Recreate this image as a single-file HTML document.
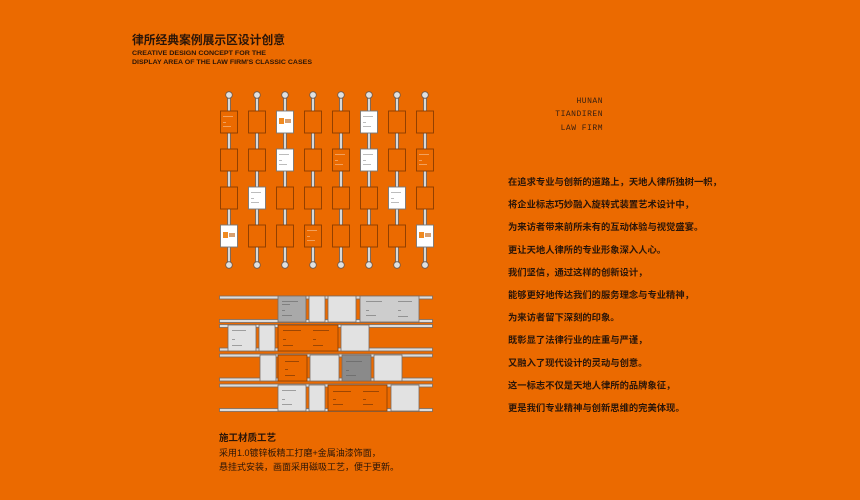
<!DOCTYPE html>
<html><head><meta charset="utf-8"><style>
html,body{margin:0;padding:0;background:#EB6A00;}
svg{display:block}
.cn{font-family:"Liberation Sans","Noto Sans CJK SC",sans-serif;}
</style></head><body>
<svg width="860" height="500" viewBox="0 0 860 500" xmlns="http://www.w3.org/2000/svg">
<rect width="860" height="500" fill="#EB6A00"/>
<g class="cn" fill="#2a1508">
<text x="132" y="44" font-size="11.8" font-weight="bold" textLength="153" lengthAdjust="spacingAndGlyphs">律所经典案例展示区设计创意</text>
<text x="132" y="55" font-size="6.5" font-weight="bold" textLength="134" lengthAdjust="spacingAndGlyphs">CREATIVE DESIGN CONCEPT FOR THE</text>
<text x="132" y="64" font-size="6.5" font-weight="bold" textLength="180" lengthAdjust="spacingAndGlyphs">DISPLAY AREA OF THE LAW FIRM'S CLASSIC CASES</text>
</g>
<g font-family="Liberation Mono, monospace" font-size="8" fill="#3a2010" text-anchor="end" letter-spacing="0.5">
<text x="603" y="103">HUNAN</text>
<text x="603" y="116">TIANDIREN</text>
<text x="603" y="130">LAW FIRM</text>
</g>
<g class="cn" font-size="9.3" font-weight="bold" fill="#2a1508">
<text x="508" y="185">在追求专业与创新的道路上，天地人律所独树一帜，</text>
<text x="508" y="207.6">将企业标志巧妙融入旋转式装置艺术设计中，</text>
<text x="508" y="230.2">为来访者带来前所未有的互动体验与视觉盛宴。</text>
<text x="508" y="252.8">更让天地人律所的专业形象深入人心。</text>
<text x="508" y="275.4">我们坚信，通过这样的创新设计，</text>
<text x="508" y="298">能够更好地传达我们的服务理念与专业精神，</text>
<text x="508" y="320.6">为来访者留下深刻的印象。</text>
<text x="508" y="343.2">既彰显了法律行业的庄重与严谨，</text>
<text x="508" y="365.8">又融入了现代设计的灵动与创意。</text>
<text x="508" y="388.4">这一标志不仅是天地人律所的品牌象征，</text>
<text x="508" y="411">更是我们专业精神与创新思维的完美体现。</text>
</g>
<g class="cn" fill="#2a1508">
<text x="219" y="441" font-size="9.5" font-weight="bold">施工材质工艺</text>
<text x="219" y="456" font-size="9">采用1.0镀锌板精工打磨+金属油漆饰面，</text>
<text x="219" y="470" font-size="9">悬挂式安装，画面采用磁吸工艺，便于更新。</text>
</g>
<g stroke="#6a5a50" stroke-width="0.8">
<g fill="#d8d8d8">
<rect x="227.5" y="95" width="3" height="170"/><rect x="255.5" y="95" width="3" height="170"/>
<rect x="283.5" y="95" width="3" height="170"/><rect x="311.5" y="95" width="3" height="170"/>
<rect x="339.5" y="95" width="3" height="170"/><rect x="367.5" y="95" width="3" height="170"/>
<rect x="395.5" y="95" width="3" height="170"/><rect x="423.5" y="95" width="3" height="170"/>
</g>
<g fill="#e0e0e0">
<circle cx="229" cy="95" r="3.3"/><circle cx="257" cy="95" r="3.3"/><circle cx="285" cy="95" r="3.3"/><circle cx="313" cy="95" r="3.3"/>
<circle cx="341" cy="95" r="3.3"/><circle cx="369" cy="95" r="3.3"/><circle cx="397" cy="95" r="3.3"/><circle cx="425" cy="95" r="3.3"/>
<circle cx="229" cy="265" r="3.3"/><circle cx="257" cy="265" r="3.3"/><circle cx="285" cy="265" r="3.3"/><circle cx="313" cy="265" r="3.3"/>
<circle cx="341" cy="265" r="3.3"/><circle cx="369" cy="265" r="3.3"/><circle cx="397" cy="265" r="3.3"/><circle cx="425" cy="265" r="3.3"/>
</g>
</g>
<g stroke="#8a3c00" stroke-width="0.9" fill="#EB6A00">
<rect x="220.5" y="111" width="17" height="22"/><rect x="248.5" y="111" width="17" height="22"/>
<rect x="276.5" y="111" width="17" height="22" fill="#fff" stroke="#777"/><rect x="304.5" y="111" width="17" height="22"/>
<rect x="332.5" y="111" width="17" height="22"/><rect x="360.5" y="111" width="17" height="22" fill="#fff" stroke="#777"/>
<rect x="388.5" y="111" width="17" height="22"/><rect x="416.5" y="111" width="17" height="22"/>
<rect x="220.5" y="149" width="17" height="22"/><rect x="248.5" y="149" width="17" height="22"/>
<rect x="276.5" y="149" width="17" height="22" fill="#fff" stroke="#777"/><rect x="304.5" y="149" width="17" height="22"/>
<rect x="332.5" y="149" width="17" height="22"/><rect x="360.5" y="149" width="17" height="22" fill="#fff" stroke="#777"/>
<rect x="388.5" y="149" width="17" height="22"/><rect x="416.5" y="149" width="17" height="22"/>
<rect x="220.5" y="187" width="17" height="22"/><rect x="248.5" y="187" width="17" height="22" fill="#fff" stroke="#777"/>
<rect x="276.5" y="187" width="17" height="22"/><rect x="304.5" y="187" width="17" height="22"/>
<rect x="332.5" y="187" width="17" height="22"/><rect x="360.5" y="187" width="17" height="22"/>
<rect x="388.5" y="187" width="17" height="22" fill="#fff" stroke="#777"/><rect x="416.5" y="187" width="17" height="22"/>
<rect x="220.5" y="225" width="17" height="22" fill="#fff" stroke="#777"/><rect x="248.5" y="225" width="17" height="22"/>
<rect x="276.5" y="225" width="17" height="22"/><rect x="304.5" y="225" width="17" height="22"/>
<rect x="332.5" y="225" width="17" height="22"/><rect x="360.5" y="225" width="17" height="22"/>
<rect x="388.5" y="225" width="17" height="22"/><rect x="416.5" y="225" width="17" height="22" fill="#fff" stroke="#777"/>
</g>
<g>
<rect x="279" y="118" width="5" height="6" fill="#f08a20"/><rect x="285" y="119" width="6" height="4" fill="#d8a070"/>
<rect x="223" y="232" width="5" height="6" fill="#f08a20"/><rect x="229" y="233" width="6" height="4" fill="#d8a070"/>
<rect x="419" y="232" width="5" height="6" fill="#f08a20"/><rect x="425" y="233" width="6" height="4" fill="#d8a070"/>
</g>
<g fill="#888" opacity="0.7">
<rect x="363" y="116" width="10" height="0.8"/><rect x="363" y="122" width="3" height="0.8"/><rect x="363" y="126" width="8" height="0.8"/>
<rect x="279" y="154" width="10" height="0.8"/><rect x="279" y="160" width="3" height="0.8"/><rect x="279" y="164" width="8" height="0.8"/>
<rect x="363" y="154" width="10" height="0.8"/><rect x="363" y="160" width="3" height="0.8"/><rect x="363" y="164" width="8" height="0.8"/>
<rect x="251" y="192" width="10" height="0.8"/><rect x="251" y="198" width="3" height="0.8"/><rect x="251" y="202" width="8" height="0.8"/>
<rect x="391" y="192" width="10" height="0.8"/><rect x="391" y="198" width="3" height="0.8"/><rect x="391" y="202" width="8" height="0.8"/>
</g>
<g fill="#f6c090" opacity="0.8">
<rect x="223" y="116" width="10" height="0.8"/><rect x="223" y="122" width="3" height="0.8"/><rect x="223" y="126" width="8" height="0.8"/>
<rect x="335" y="154" width="10" height="0.8"/><rect x="335" y="160" width="3" height="0.8"/><rect x="335" y="164" width="8" height="0.8"/>
<rect x="419" y="154" width="10" height="0.8"/><rect x="419" y="160" width="3" height="0.8"/><rect x="419" y="164" width="8" height="0.8"/>
<rect x="307" y="230" width="10" height="0.8"/><rect x="307" y="236" width="3" height="0.8"/><rect x="307" y="240" width="8" height="0.8"/>
</g>
<g fill="#dcdcdc" stroke="#7a6a60" stroke-width="0.8">
<rect x="219.5" y="296" width="213" height="3"/><rect x="219.5" y="319.5" width="213" height="3"/>
<rect x="219.5" y="324.5" width="213" height="3"/><rect x="219.5" y="348" width="213" height="3"/>
<rect x="219.5" y="354" width="213" height="3"/><rect x="219.5" y="378" width="213" height="3"/>
<rect x="219.5" y="384" width="213" height="3"/><rect x="219.5" y="408.5" width="213" height="3"/>
</g>
<g stroke="#7a6a60" stroke-width="0.8">
<rect x="278" y="296" width="28" height="26" fill="#a9a9a9"/>
<rect x="309" y="296" width="16" height="26" fill="#e2e2e2"/>
<rect x="328" y="296" width="28" height="26" fill="#e2e2e2"/>
<rect x="360" y="296" width="59" height="26" fill="#cdcdcd"/>
<rect x="228" y="325" width="28" height="26" fill="#e2e2e2"/>
<rect x="259" y="325" width="16" height="26" fill="#e2e2e2"/>
<rect x="278" y="325" width="60" height="26" fill="#EB6A00" stroke="#8a3c00"/>
<rect x="341" y="325" width="28" height="26" fill="#e2e2e2"/>
<rect x="260" y="355" width="16" height="26" fill="#e2e2e2"/>
<rect x="278" y="355" width="29" height="26" fill="#EB6A00" stroke="#8a3c00"/>
<rect x="310" y="355" width="29" height="26" fill="#e2e2e2"/>
<rect x="342" y="355" width="29" height="26" fill="#8a8a8a"/>
<rect x="374" y="355" width="28" height="26" fill="#e2e2e2"/>
<rect x="278" y="385" width="28" height="26" fill="#e2e2e2"/>
<rect x="309" y="385" width="16" height="26" fill="#e2e2e2"/>
<rect x="328" y="385" width="59" height="26" fill="#EB6A00" stroke="#8a3c00"/>
<rect x="391" y="385" width="28" height="26" fill="#e2e2e2"/>
</g>
<g fill="#555" opacity="0.6">
<rect x="282" y="301" width="16" height="0.8"/><rect x="282" y="304" width="8" height="0.8"/><rect x="282" y="310" width="3" height="0.8"/><rect x="282" y="315" width="10" height="0.8"/>
<rect x="366" y="301" width="16" height="0.8"/><rect x="366" y="310" width="3" height="0.8"/><rect x="366" y="315" width="10" height="0.8"/>
<rect x="398" y="301" width="14" height="0.8"/><rect x="398" y="310" width="3" height="0.8"/><rect x="398" y="316" width="10" height="0.8"/>
<rect x="232" y="330" width="14" height="0.8"/><rect x="232" y="339" width="3" height="0.8"/><rect x="232" y="345" width="10" height="0.8"/>
<rect x="346" y="361" width="16" height="0.8"/><rect x="346" y="370" width="3" height="0.8"/><rect x="346" y="375" width="10" height="0.8"/>
<rect x="282" y="390" width="14" height="0.8"/><rect x="282" y="399" width="3" height="0.8"/><rect x="282" y="404" width="10" height="0.8"/>
</g>
<g fill="#4a2008" opacity="0.6">
<rect x="283" y="330" width="18" height="0.8"/><rect x="283" y="339" width="3" height="0.8"/><rect x="283" y="345" width="10" height="0.8"/>
<rect x="313" y="330" width="16" height="0.8"/><rect x="313" y="339" width="3" height="0.8"/><rect x="313" y="345" width="10" height="0.8"/>
<rect x="285" y="361" width="14" height="0.8"/><rect x="285" y="369" width="3" height="0.8"/><rect x="285" y="375" width="10" height="0.8"/>
<rect x="333" y="391" width="18" height="0.8"/><rect x="333" y="399" width="3" height="0.8"/><rect x="333" y="404" width="10" height="0.8"/>
<rect x="363" y="391" width="16" height="0.8"/><rect x="363" y="399" width="3" height="0.8"/><rect x="363" y="404" width="10" height="0.8"/>
</g>
</svg>
</body></html>
